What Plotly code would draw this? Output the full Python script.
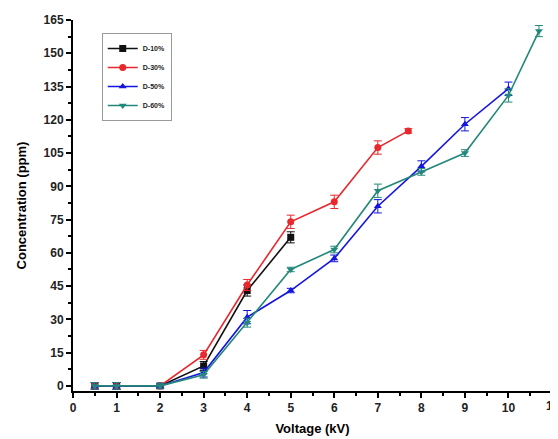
import plotly.graph_objects as go

x10 = [0.5, 1, 2, 3, 4, 5]
y10 = [0, 0, 0, 9, 43, 67]
e10 = [1.5, 1.5, 1, 2, 2.5, 2.5]

x30 = [0.5, 1, 2, 3, 4, 5, 6, 7, 7.7]
y30 = [0, 0, 0, 14, 45.5, 74, 83, 107.5, 115]
e30 = [1.5, 1.5, 1, 2, 2.5, 3, 3, 3, 1]

x50 = [0.5, 1, 2, 3, 4, 5, 6, 7, 8, 9, 10]
y50 = [0, 0, 0, 6, 31, 43, 57.5, 81, 99, 118, 134]
e50 = [1.5, 1.5, 1, 2, 3, 1, 1.5, 3, 2.5, 3, 3]

x60 = [0.5, 1, 2, 3, 4, 5, 6, 7, 8, 9, 10, 10.7]
y60 = [0, 0, 0, 5, 28.5, 52.5, 61.5, 88, 96.5, 105, 131, 160]
e60 = [1.5, 1.5, 1, 1.5, 2, 1, 1.5, 3, 1.5, 1.5, 3, 2.5]

series = [
    ("D-10%", x10, y10, e10, "#111111", "square"),
    ("D-30%", x30, y30, e30, "#e8282c", "circle"),
    ("D-50%", x50, y50, e50, "#1515e0", "triangle-up"),
    ("D-60%", x60, y60, e60, "#23887a", "triangle-down"),
]

xticks = list(range(0, 12))
yticks = list(range(0, 166, 15))

fig = go.Figure()
for name, xs, ys, es, col, sym in series:
    fig.add_trace(go.Scatter(
        x=xs, y=ys, name="<b>" + name + "</b>", mode="lines+markers",
        line=dict(color=col, width=1.6),
        marker=dict(symbol=sym, size=7, color=col),
        error_y=dict(type="data", array=es, visible=True, color=col, thickness=1, width=4),
    ))

font = "Liberation Sans, Arial, sans-serif"
fig.update_layout(
    width=550, height=431,
    margin=dict(l=65, r=6, t=12, b=48),
    paper_bgcolor="white", plot_bgcolor="white",
    font=dict(family=font, color="black"),
    showlegend=True,
    legend=dict(x=0.06, y=0.965, xanchor="left", yanchor="top",
                bgcolor="white", bordercolor="#999999", borderwidth=1,
                font=dict(size=7, family=font, color="#222"),
                itemwidth=30, tracegroupgap=0),
    xaxis=dict(range=[0, 11], tickvals=xticks, ticktext=["<b>%d</b>" % v for v in xticks],
               automargin=False,
               showgrid=False, zeroline=False, showline=True, linecolor="black", linewidth=2,
               ticks="outside", ticklen=5, tickwidth=1.5, tickcolor="black",
               minor=dict(ticks="outside", dtick=0.5, ticklen=3, tickwidth=1.5, tickcolor="black"),
               tickfont=dict(size=12, family=font, color="#222"),
               title=dict(text="<b>Voltage (kV)</b>", font=dict(size=13, family=font), standoff=9)),
    yaxis=dict(range=[-2.3, 165], tickvals=yticks, ticktext=["<b>%d</b>" % v for v in yticks],
               automargin=False,
               showgrid=False, zeroline=False, showline=True, linecolor="black", linewidth=2,
               ticks="outside", ticklen=5, tickwidth=1.5, tickcolor="black",
               minor=dict(ticks="outside", dtick=7.5, ticklen=3, tickwidth=1.5, tickcolor="black"),
               tickfont=dict(size=12, family=font, color="#222"),
               title=dict(text="<b>Concentration (ppm)</b>", font=dict(size=13, family=font), standoff=14)),
)
fig.add_annotation(x=11, xref="x", y=0, yref="paper", yanchor="top", yshift=-6,
                   text="<b>11</b>", showarrow=False,
                   font=dict(size=12, family=font, color="#222"))
fig.write_html("out.html")
